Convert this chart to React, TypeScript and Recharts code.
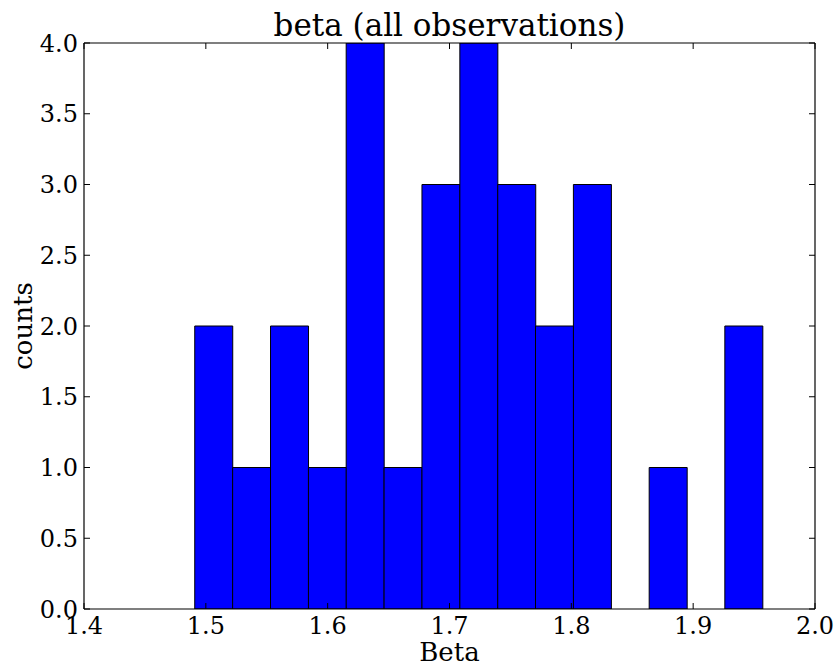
import React from 'react';
import { BarChart, Bar, XAxis, YAxis } from 'recharts';

// Histogram of beta values: bin centres and counts per bin
const binCenters = [
  1.5064, 1.5375, 1.5686, 1.5997, 1.6307, 1.6618, 1.6929, 1.724,
  1.7551, 1.7861, 1.8172, 1.8483, 1.8794, 1.9105, 1.9415,
];
const counts = [2, 1, 2, 1, 4, 1, 3, 4, 3, 2, 3, 0, 1, 0, 2];

const xTicks = [1.4, 1.5, 1.6, 1.7, 1.8, 1.9, 2.0];
const yTicks = [0, 0.5, 1.0, 1.5, 2.0, 2.5, 3.0, 3.5, 4.0];

const title = 'beta (all observations)';
const xLabel = 'Beta';
const yLabel = 'counts';

const data = binCenters.map((c, i) => ({ center: c, count: counts[i] }));

const FONT = '"DejaVu Serif", "Liberation Serif", serif';
const tickStyle = { fontFamily: FONT, fontSize: 24, fill: '#000' };

const TitleLabel = (props: any) => {
  const vb = props.viewBox || {};
  return (
    <text
      x={vb.x + vb.width / 2}
      y={36}
      textAnchor="middle"
      fontFamily={FONT}
      fontSize={31}
      fill="#000"
    >
      {title}
    </text>
  );
};

const XLabelC = (props: any) => {
  const vb = props.viewBox || {};
  return (
    <text
      x={vb.x + vb.width / 2}
      y={vb.y + 52}
      textAnchor="middle"
      fontFamily={FONT}
      fontSize={26}
      fill="#000"
    >
      {xLabel}
    </text>
  );
};

const YLabelC = (props: any) => {
  const vb = props.viewBox || {};
  const cx = 32;
  const cy = vb.y + vb.height / 2;
  return (
    <text
      x={cx}
      y={cy}
      textAnchor="middle"
      transform={`rotate(-90, ${cx}, ${cy})`}
      fontFamily={FONT}
      fontSize={26}
      fill="#000"
    >
      {yLabel}
    </text>
  );
};

export default function App() {
  return (
    <div style={{ position: 'absolute', left: 0, top: 0, background: '#fff' }}>
      <BarChart
        width={837}
        height={667}
        data={data}
        margin={{ top: 0, right: 0, bottom: 0, left: 0 }}
        barCategoryGap={0}
        barGap={0}
      >
        <XAxis
          dataKey="center"
          type="number"
          domain={[1.4, 2.0]}
          allowDataOverflow
          ticks={xTicks}
          interval={0}
          tickFormatter={(v: number) => v.toFixed(1)}
          height={58}
          tickSize={-6}
          tickMargin={14}
          tick={tickStyle}
          stroke="#000"
          axisLine={{ stroke: '#000', strokeWidth: 1.2 }}
          tickLine={{ stroke: '#000' }}
          label={<XLabelC />}
        />
        <XAxis
          xAxisId="top"
          dataKey="center"
          orientation="top"
          type="number"
          domain={[1.4, 2.0]}
          allowDataOverflow
          ticks={xTicks}
          interval={0}
          tickFormatter={() => ''}
          height={43}
          tickSize={-6}
          axisLine={{ stroke: '#000', strokeWidth: 1.2 }}
          tickLine={{ stroke: '#000' }}
          label={<TitleLabel />}
        />
        <YAxis
          type="number"
          domain={[0, 4]}
          allowDataOverflow
          ticks={yTicks}
          interval={0}
          tickFormatter={(v: number) => v.toFixed(1)}
          width={84}
          tickSize={-6}
          tickMargin={12}
          tick={tickStyle}
          axisLine={{ stroke: '#000', strokeWidth: 1.2 }}
          tickLine={{ stroke: '#000' }}
          label={<YLabelC />}
        />
        <YAxis
          yAxisId="right"
          orientation="right"
          type="number"
          domain={[0, 4]}
          allowDataOverflow
          ticks={yTicks}
          interval={0}
          tickFormatter={() => ''}
          width={22}
          tickSize={-6}
          axisLine={{ stroke: '#000', strokeWidth: 1.2 }}
          tickLine={{ stroke: '#000' }}
        />
        <Bar
          dataKey="count"
          fill="#0000ff"
          stroke="#000"
          strokeWidth={1}
          isAnimationActive={false}
        />
      </BarChart>
    </div>
  );
}
